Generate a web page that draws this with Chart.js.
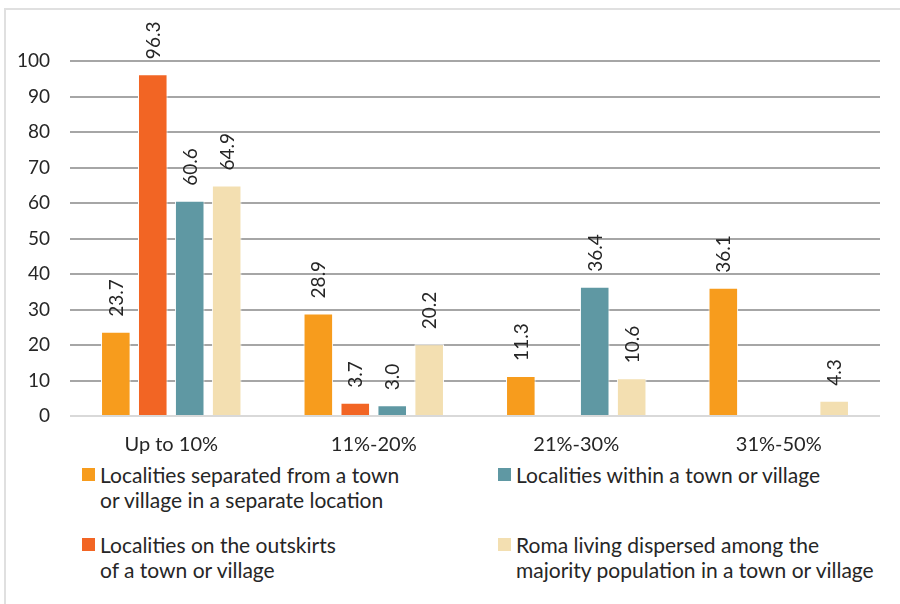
<!DOCTYPE html>
<html lang="en">
<head>
    <meta charset="UTF-8">
    <title>Roma localities by share of population</title>
    <script src="https://cdn.jsdelivr.net/npm/chart.js"></script>
    <style>
        body {
            margin: 0;
            width: 900px;
            height: 604px;
            background: #fff;
            overflow: hidden;
            position: relative;
            font-family: Lato, "Open Sans", sans-serif;
            color: #262626;
        }
        .frame {
            position: absolute;
            left: 4px;
            top: 8px;
            width: 1000px;
            height: 700px;
            border: 2px solid #e0e0e0;
        }
        .chart-box {
            position: absolute;
            left: 0;
            top: 0;
            width: 900px;
            height: 455px;
        }
        .legend {
            position: absolute;
            font-size: 21px;
            line-height: 25px;
        }
        .legend .sw {
            position: absolute;
            left: -18px;
            top: 6px;
            width: 13px;
            height: 13px;
        }
    </style>
</head>
<body>
    <div class="frame"></div>
    <div class="chart-box"><canvas id="chart" width="900" height="455"></canvas></div>
    <div id="legend"></div>

    <script>
        const categories = ['Up to 10%', '11%-20%', '21%-30%', '31%-50%'];
        const separated = [23.7, 28.9, 11.3, 36.1];
        const outskirts = [96.3, 3.7, null, null];
        const within = [60.6, 3.0, 36.4, null];
        const dispersed = [64.9, 20.2, 10.6, 4.3];
        const yTicks = [0, 10, 20, 30, 40, 50, 60, 70, 80, 90, 100];

        const series = [
            { label: 'Localities separated from a town\nor village in a separate location', data: separated, color: '#F79C1D' },
            { label: 'Localities on the outskirts\nof a town or village', data: outskirts, color: '#F26524' },
            { label: 'Localities within a town or village', data: within, color: '#5F98A3' },
            { label: 'Roma living dispersed among the\nmajority population in a town or village', data: dispersed, color: '#F3DFB1' }
        ];

        const FONT = 'Lato, "Open Sans", sans-serif';

        // values written vertically above each bar
        const barLabels = {
            id: 'barLabels',
            afterDatasetsDraw(chart) {
                const ctx = chart.ctx;
                ctx.save();
                ctx.font = '19px ' + FONT;
                ctx.fillStyle = '#262626';
                ctx.textAlign = 'left';
                ctx.textBaseline = 'middle';
                chart.data.datasets.forEach((ds, di) => {
                    const meta = chart.getDatasetMeta(di);
                    meta.data.forEach((bar, i) => {
                        const v = ds.data[i];
                        if (v === null) return;
                        ctx.save();
                        ctx.translate(bar.x + 1, bar.y - 15);
                        ctx.rotate(-Math.PI / 2);
                        ctx.fillText(v.toFixed(1), 0, 0);
                        ctx.restore();
                    });
                });
                ctx.restore();
            }
        };

        new Chart(document.getElementById('chart'), {
            type: 'bar',
            data: {
                labels: categories,
                datasets: series.map(s => ({
                    label: s.label,
                    data: s.data,
                    backgroundColor: s.color,
                    borderColor: '#ffffff',
                    borderWidth: 1,
                    categoryPercentage: 0.73,
                    barPercentage: 0.8
                }))
            },
            options: {
                responsive: false,
                animation: false,
                layout: { padding: { left: 0, right: 20, top: 61, bottom: 0 } },
                plugins: {
                    legend: { display: false },
                    tooltip: { enabled: false }
                },
                scales: {
                    x: {
                        grid: { display: false },
                        border: { display: false },
                        ticks: {
                            color: '#262626',
                            font: { family: FONT, size: 20 },
                            padding: 9
                        },
                        afterFit(scale) { scale.height = 39; }
                    },
                    y: {
                        min: 0,
                        max: 100,
                        afterBuildTicks(scale) { scale.ticks = yTicks.map(v => ({ value: v })); },
                        grid: {
                            drawTicks: false,
                            lineWidth: 2,
                            color: c => c.tick.value === 0 ? '#d9d9d9' : '#a6a6a6'
                        },
                        border: { display: false },
                        ticks: {
                            color: '#262626',
                            font: { family: FONT, size: 19 },
                            padding: 20
                        },
                        afterFit(scale) { scale.width = 70; }
                    }
                }
            },
            plugins: [barLabels]
        });

        // legend in two columns, same order as the original
        const legendPos = [
            { s: 0, left: 100, top: 462 },
            { s: 2, left: 516, top: 462 },
            { s: 1, left: 100, top: 532 },
            { s: 3, left: 516, top: 532 }
        ];
        const legendEl = document.getElementById('legend');
        legendPos.forEach(p => {
            const s = series[p.s];
            const div = document.createElement('div');
            div.className = 'legend';
            div.style.left = p.left + 'px';
            div.style.top = p.top + 'px';
            const sw = document.createElement('span');
            sw.className = 'sw';
            sw.style.background = s.color;
            div.appendChild(sw);
            s.label.split('\n').forEach((line, k) => {
                if (k) div.appendChild(document.createElement('br'));
                div.appendChild(document.createTextNode(line));
            });
            legendEl.appendChild(div);
        });
    </script>
</body>
</html>
